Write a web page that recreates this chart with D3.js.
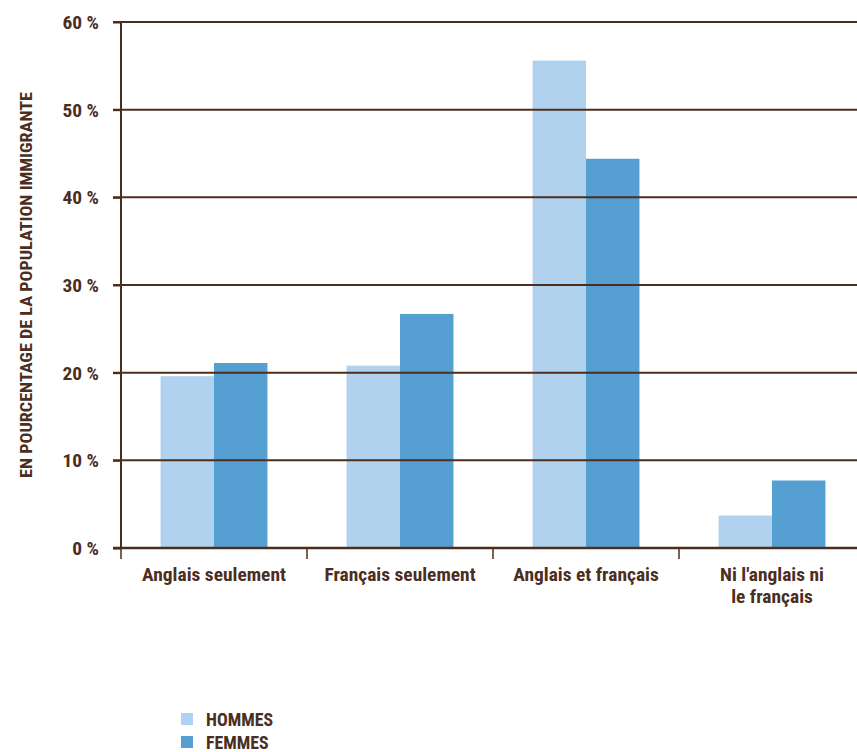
<!DOCTYPE html>
<html>
<head>
<meta charset="utf-8">
<script src="https://cdn.jsdelivr.net/npm/d3@7"></script>
<style>
  html, body { margin: 0; padding: 0; background: #fff; }
  svg text { font-family: "Liberation Sans Narrow", "Roboto Condensed", "Arial Narrow", sans-serif; font-weight: bold; fill: #4b2e1e; }
</style>
</head>
<body>
<svg id="chart" width="857" height="752"></svg>
<script>
// Connaissance des langues officielles, population immigrante
const categories = [["Anglais seulement"], ["Français seulement"], ["Anglais et français"], ["Ni l'anglais ni", "le français"]];
const series = ["HOMMES", "FEMMES"];
const hommes = [19.6, 20.8, 55.6, 3.7];
const femmes = [21.1, 26.7, 44.4, 7.7];
const yTicks = [0, 10, 20, 30, 40, 50, 60];
const colors = ["#b0d2ee", "#569fd3"];
const ink = "#4b2e1e";
const stretch = 1.08; // widen the narrow face a little

const svg = d3.select("#chart");
const plotLeft = 121, plotTop = 22, plotBottom = 548;

const x = d3.scaleBand().domain(d3.range(categories.length)).range([plotLeft, plotLeft + 186 * 4]).paddingInner(0).paddingOuter(0);
const xs = d3.scaleBand().domain(series).range([0, x.bandwidth()]).paddingInner(0).paddingOuter(0.74);
const y = d3.scaleLinear().domain([0, 60]).range([plotBottom, plotTop]);

const color = d3.scaleOrdinal().domain(series).range(colors);

// Bars
const data = categories.map((c, i) => ({ i, vals: [hommes[i], femmes[i]] }));
svg.append("g").selectAll("g.cat").data(data).join("g")
  .attr("class", "cat")
  .attr("transform", d => `translate(${x(d.i)},0)`)
  .selectAll("rect").data(d => d.vals.map((v, k) => ({ s: series[k], v })))
  .join("rect")
  .attr("x", d => xs(d.s))
  .attr("width", xs.bandwidth())
  .attr("y", d => y(d.v))
  .attr("height", d => y(0) - y(d.v))
  .attr("fill", d => color(d.s));

// Gridlines over bars
svg.append("g").selectAll("line").data(yTicks.filter(t => t > 0)).join("line")
  .attr("x1", plotLeft - 8).attr("x2", 857)
  .attr("y1", d => y(d)).attr("y2", d => y(d))
  .attr("stroke", ink).attr("stroke-width", 2);

// Y axis
const yAxis = svg.append("g").attr("transform", `translate(${plotLeft},0)`)
  .call(d3.axisLeft(y).tickValues(yTicks).tickSize(8).tickFormat(d => d + " %"));
yAxis.select(".domain").attr("stroke", ink).attr("stroke-width", 2).attr("d", `M0,${plotTop}V${plotBottom}`);
yAxis.selectAll(".tick line").attr("stroke", ink).attr("stroke-width", 2);
yAxis.selectAll(".tick text")
  .attr("x", null).attr("dy", "0.36em")
  .attr("transform", `translate(-22,0) scale(${stretch},1)`)
  .attr("font-size", 18).style("fill", ink);

// X axis baseline and category separators
svg.append("line").attr("x1", plotLeft - 8).attr("x2", 857).attr("y1", plotBottom).attr("y2", plotBottom)
  .attr("stroke", ink).attr("stroke-width", 2.5);
svg.append("g").selectAll("line").data(d3.range(categories.length)).join("line")
  .attr("x1", d => x(d)).attr("x2", d => x(d))
  .attr("y1", plotBottom).attr("y2", plotBottom + 11)
  .attr("stroke", ink).attr("stroke-width", 1.5);

// Category labels
const lab = svg.append("g").selectAll("text").data(categories).join("text")
  .attr("text-anchor", "middle")
  .attr("font-size", 18)
  .attr("transform", (d, i) => `translate(${x(i) + x.bandwidth() / 2},581) scale(${stretch},1)`);
lab.selectAll("tspan").data(d => d).join("tspan")
  .attr("x", 0).attr("dy", (d, k) => k === 0 ? 0 : 22).text(d => d);

// Y-axis title
svg.append("text")
  .attr("transform", `translate(32,${(plotTop + plotBottom) / 2}) rotate(-90) scale(1.1,1)`)
  .attr("text-anchor", "middle")
  .attr("font-size", 16.5)
  .text("EN POURCENTAGE DE LA POPULATION IMMIGRANTE");

// Legend
const leg = svg.append("g").attr("transform", "translate(181,713)");
const li = leg.selectAll("g").data(series).join("g").attr("transform", (d, i) => `translate(0,${i * 23})`);
li.append("rect").attr("width", 12).attr("height", 12).attr("fill", d => color(d));
li.append("text").attr("transform", "translate(25,12.5) scale(1.02,1)").attr("font-size", 17.5).text(d => d);
</script>
</body>
</html>
